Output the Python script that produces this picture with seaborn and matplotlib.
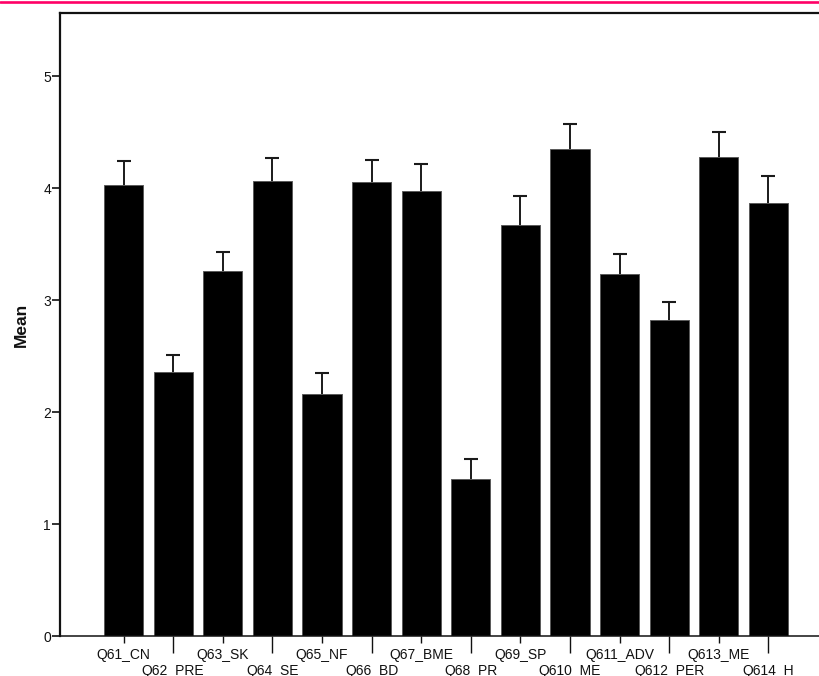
import matplotlib
matplotlib.use("Agg")
import matplotlib.pyplot as plt
from matplotlib.lines import Line2D
import numpy as np
import pandas as pd
import seaborn as sns

# Item labels and their means with the upper end of each error bar
items = ["Q61_CN", "Q62_PRE", "Q63_SK", "Q64_SE", "Q65_NF", "Q66_BD", "Q67_BME",
         "Q68_PR", "Q69_SP", "Q610_ME", "Q611_ADV", "Q612_PER", "Q613_ME", "Q614_H"]
means = [4.03, 2.36, 3.26, 4.06, 2.16, 4.05, 3.97,
         1.40, 3.67, 4.35, 3.23, 2.82, 4.28, 3.87]
upper = [4.24, 2.51, 3.43, 4.27, 2.35, 4.25, 4.21,
         1.58, 3.93, 4.57, 3.41, 2.98, 4.50, 4.11]
y_ticks = [0, 1, 2, 3, 4, 5]

sns.set_theme(style="white")
plt.rcParams["font.family"] = ["Liberation Sans", "DejaVu Sans"]

W, H = 819, 676
fig = plt.figure(figsize=(W / 100, H / 100), dpi=100)
# axes box in pixels: left 60, right 832 (runs past the canvas edge), top 13, bottom 636
ax = fig.add_axes([60 / W, 40 / H, 772 / W, 623 / H])

df = pd.DataFrame({"item": items, "mean": means})
sns.barplot(data=df, x="item", y="mean", order=items, color="black",
            width=0.79, edgecolor="#5a5a5a", linewidth=0.7,
            errorbar=None, ax=ax, saturation=1, zorder=3)

# symmetric error bars drawn behind the bars, so only the upper half shows
pos = np.arange(len(items))
err = np.array(upper) - np.array(means)
ax.errorbar(pos, means, yerr=err, fmt="none",
            ecolor="#1a1a1a", elinewidth=1.4, capsize=4.7, capthick=1.5, zorder=2)

ax.set_xlim(-1.28, 14.28)
ax.set_ylim(0, 5.5625)
ax.set_yticks(y_ticks)
ax.set_yticklabels([str(t) for t in y_ticks])

# staggered category labels: first row on major ticks, second row on minor ticks
ax.set_xticks(pos[0::2])
ax.set_xticklabels(items[0::2])
ax.set_xticks(pos[1::2], minor=True)
ax.set_xticklabels(items[1::2], minor=True)
ax.tick_params(axis="x", which="major", length=5.2, width=1.0, pad=3.6,
               labelsize=10, colors="#111111", bottom=True)
ax.tick_params(axis="x", which="minor", length=12.4, width=1.0, pad=7.9,
               labelsize=10, colors="#111111", bottom=True)
ax.tick_params(axis="y", length=5.5, width=1.2, pad=1.0, labelsize=10,
               colors="#111111", left=True)

ax.set_xlabel("")
ax.set_ylabel("Mean", fontsize=12.5, fontweight="bold", color="#111111")
ax.yaxis.set_label_coords(-0.040, 0.5)

for side in ["top", "left"]:
    ax.spines[side].set_linewidth(1.6)
    ax.spines[side].set_color("#111111")
ax.spines["bottom"].set_linewidth(1.1)
ax.spines["bottom"].set_color("#111111")
ax.spines["right"].set_visible(False)
for side in ["top", "left", "bottom"]:
    ax.spines[side].set_zorder(4)

# accent rule along the top edge
fig.add_artist(Line2D([0, 1], [1 - 2.2 / H, 1 - 2.2 / H], transform=fig.transFigure,
                      color="#ff0066", linewidth=1.9))

fig.savefig("out.png", dpi=100)
